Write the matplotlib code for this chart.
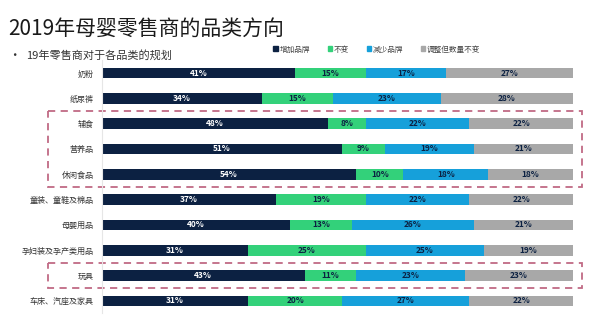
import matplotlib
matplotlib.use("Agg")
import matplotlib.pyplot as plt
import matplotlib.transforms as mtransforms
from matplotlib.patches import Rectangle, Patch

plt.rcParams['font.family'] = ['Noto Sans CJK SC', 'DejaVu Sans']

categories = ["奶粉", "纸尿裤", "辅食", "营养品", "休闲食品", "童装、童鞋及棉品",
              "母婴用品", "孕妇装及孕产类用品", "玩具", "车床、汽座及家具"]
series_names = ["增加品牌", "不变", "减少品牌", "调整但数量不变"]
increase = [41, 34, 48, 51, 54, 37, 40, 31, 43, 31]
unchanged = [15, 15, 8, 9, 10, 19, 13, 25, 11, 20]
decrease = [17, 23, 22, 19, 18, 22, 26, 25, 23, 27]
adjusted = [27, 28, 22, 21, 18, 22, 21, 19, 23, 22]

colors = ["#0c2142", "#33d17a", "#16a0da", "#a8a8a8"]
text_colors = ["white", "#0c2142", "#0c2142", "#0c2142"]

fig = plt.figure(figsize=(6, 3.16), dpi=100, facecolor="white")
ax = fig.add_axes([0.17, 0.008, 0.785, 0.801])

y = list(range(len(categories)))
left = [0] * len(categories)
for vals, col, tc, name in zip([increase, unchanged, decrease, adjusted],
                               colors, text_colors, series_names):
    ax.barh(y, vals, left=left, height=0.42, color=col, label=name)
    for i, v in enumerate(vals):
        ax.text(left[i] + v / 2, i, f"{v}%", ha="center", va="center",
                fontsize=6, weight="bold", color=tc)
    left = [l + v for l, v in zip(left, vals)]

ax.set_xlim(0, 100)
ax.set_ylim(len(categories) - 0.5, -0.5)
ax.set_yticks(y)
ax.set_yticklabels(categories, fontsize=5.8, color="#333333")
ax.tick_params(axis="y", length=0, pad=6)
ax.set_xticks([])
for s in ["top", "right", "bottom"]:
    ax.spines[s].set_visible(False)
ax.spines["left"].set_color("#e6e6e6")

# dashed highlight boxes
trans = mtransforms.blended_transform_factory(fig.transFigure, ax.transData)
for y0, y1 in [(1.5, 4.5), (7.5, 8.5)]:
    ax.add_patch(Rectangle((0.08, y0), 0.89, y1 - y0, transform=trans,
                           fill=False, edgecolor="#c06a85", linestyle=(0, (4, 3)),
                           linewidth=1.3, clip_on=False))

fig.text(0.013, 0.91, "2019年母婴零售商的品类方向", fontsize=15,
         color="#1a1a1a", va="center")
fig.text(0.013, 0.825, "•", fontsize=9, color="#333333", va="center")
fig.text(0.043, 0.825, "19年零售商对于各品类的规划", fontsize=8,
         color="#333333", va="center")

handles = [Patch(color=c) for c in colors]
fig.legend(handles, series_names, loc="center", bbox_to_anchor=(0.628, 0.843),
           ncol=4, frameon=False, fontsize=5.5, handlelength=0.6,
           handleheight=0.6, handletextpad=0.2, columnspacing=2.3,
           labelcolor="#444444")

fig.savefig("out.png", dpi=100, facecolor="white")
